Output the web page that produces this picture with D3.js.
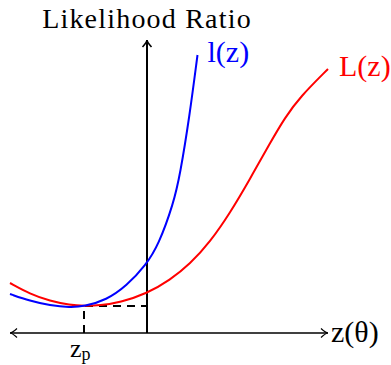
<!DOCTYPE html>
<html>
<head>
<meta charset="utf-8">
<script src="https://cdn.jsdelivr.net/npm/d3@7"></script>
<style>
  html, body { margin: 0; padding: 0; background: #fff; }
  svg { display: block; }
  text { font-family: "Liberation Serif", "DejaVu Serif", serif; }
</style>
</head>
<body>
<svg id="chart" width="391" height="365"></svg>
<script>
// Axis extent (z on the horizontal axis, ratio on the vertical axis)
const zRange = [-2.74, 3.62];
const ratioRange = [0, 5.86];

// l(z): steep curve
const zSmall = [-2.74, -2.34, -1.94, -1.54, -1.26, -0.81, -0.41, -0.02, 0.23, 0.53, 0.66, 0.85, 1.01];
const lSmall = [0.78, 0.64, 0.55, 0.51, 0.53, 0.66, 0.94, 1.36, 1.76, 2.59, 3.16, 4.33, 5.56];

// L(z): slow S-shaped curve
const zLarge = [-2.74, -2.34, -1.94, -1.54, -1.26, -0.94, -0.54, 0, 0.46, 0.86, 1.26, 1.66, 2.06, 2.46, 2.76, 3.06, 3.62];
const LLarge = [1.0, 0.78, 0.64, 0.56, 0.54, 0.55, 0.61, 0.79, 1.06, 1.38, 1.82, 2.4, 3.08, 3.8, 4.31, 4.72, 5.28];

// Point where both curves touch
const zP = -1.26;
const ratioP = 0.54;

const labels = {
  yTitle: "Likelihood Ratio",
  xTitle: "z(θ)",
  small: "l(z)",
  large: "L(z)"
};

const svg = d3.select("#chart");
const x = d3.scaleLinear().domain(zRange).range([10, 328]);
const y = d3.scaleLinear().domain(ratioRange).range([333, 40]);

const x0 = x(0), y0 = y(0);

// Horizontal axis with arrows at both ends
svg.append("line")
  .attr("x1", x(zRange[0])).attr("x2", x(zRange[1]))
  .attr("y1", y0).attr("y2", y0)
  .attr("stroke", "#000").attr("stroke-width", 1.3);

function arrowHead(tipX, tipY, dx, dy, w) {
  // open arrow tip pointing along (dx, dy)
  const len = 7;
  const px = -dy, py = dx;
  const bx = tipX - dx * len, by = tipY - dy * len;
  return `M${bx + px * w},${by + py * w} Q${tipX - dx * 2},${tipY - dy * 2} ${tipX},${tipY} Q${tipX - dx * 2},${tipY - dy * 2} ${bx - px * w},${by - py * w}`;
}

svg.append("path")
  .attr("d", arrowHead(x(zRange[1]), y0, 1, 0, 4.5))
  .attr("fill", "none").attr("stroke", "#000").attr("stroke-width", 1.2);
svg.append("path")
  .attr("d", arrowHead(x(zRange[0]), y0, -1, 0, 4.5))
  .attr("fill", "none").attr("stroke", "#000").attr("stroke-width", 1.2);

// Vertical axis
svg.append("line")
  .attr("x1", x0).attr("x2", x0)
  .attr("y1", y0).attr("y2", y(ratioRange[1]))
  .attr("stroke", "#000").attr("stroke-width", 2);
svg.append("path")
  .attr("d", arrowHead(x0, y(ratioRange[1]), 0, -1, 4.5))
  .attr("fill", "none").attr("stroke", "#000").attr("stroke-width", 1.6);

// Dashed guide lines to z_p
svg.append("path")
  .attr("d", `M${x(zP)},${y0} L${x(zP)},${y(ratioP)} L${x0},${y(ratioP)}`)
  .attr("fill", "none").attr("stroke", "#000").attr("stroke-width", 2)
  .attr("stroke-dasharray", "8,6");

const line = d3.line()
  .x(d => x(d[0]))
  .y(d => y(d[1]))
  .curve(d3.curveBasis);

svg.append("path")
  .datum(d3.zip(zLarge, LLarge))
  .attr("d", line)
  .attr("fill", "none").attr("stroke", "#ff0000").attr("stroke-width", 2);

svg.append("path")
  .datum(d3.zip(zSmall, lSmall))
  .attr("d", line)
  .attr("fill", "none").attr("stroke", "#0000ff").attr("stroke-width", 2);

// Text labels
svg.append("text")
  .attr("x", x0).attr("y", 28)
  .attr("text-anchor", "middle")
  .attr("font-size", 28)
  .attr("letter-spacing", 1.2)
  .text(labels.yTitle);

svg.append("text")
  .attr("x", x(zSmall[zSmall.length - 1]) + 10).attr("y", 62)
  .attr("font-size", 30).attr("fill", "#0000ff")
  .text(labels.small);

svg.append("text")
  .attr("x", x(zLarge[zLarge.length - 1]) + 11).attr("y", 76)
  .attr("font-size", 30).attr("fill", "#ff0000")
  .text(labels.large);

svg.append("text")
  .attr("x", x(zRange[1]) + 3).attr("y", y0 + 9)
  .attr("font-size", 30)
  .text(labels.xTitle);

const zp = svg.append("text")
  .attr("x", x(zP) - 14).attr("y", 357)
  .attr("font-size", 26);
zp.append("tspan").text("z");
zp.append("tspan").attr("font-size", 18).attr("dy", 3).text("p");
</script>
</body>
</html>
